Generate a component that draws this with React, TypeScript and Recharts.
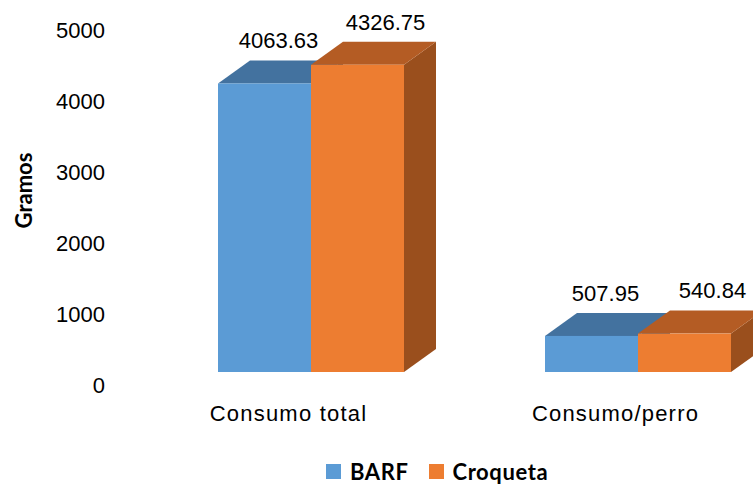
import React from "react";
import { BarChart, Bar, XAxis, YAxis, Legend, LabelList, Label } from "recharts";

const categories = ["Consumo total", "Consumo/perro"];
const barfValues = [4063.63, 507.95];
const croquetaValues = [4326.75, 540.84];
const yTicks = [0, 1000, 2000, 3000, 4000, 5000];

const data = categories.map((name, i) => ({
  name,
  BARF: barfValues[i],
  Croqueta: croquetaValues[i],
}));

const FONT = "'Liberation Sans', Arial, sans-serif";
const LEGEND_FONT = "Lato, 'Noto Sans', sans-serif";

// depth of the fake 3D extrusion
const DX = 32;
const DY = 23;

const palette: Record<string, { front: string; top: string; side: string }> = {
  BARF: { front: "#5B9BD5", top: "#43729F", side: "#3A6690" },
  Croqueta: { front: "#ED7D31", top: "#B45C24", side: "#9A4F1D" },
};

function Box3D(props: any) {
  const { x, y, width, height, dataKey } = props;
  const c = palette[dataKey] || palette.BARF;
  const top = `${x},${y} ${x + DX},${y - DY} ${x + width + DX},${y - DY} ${x + width},${y}`;
  const side = `${x + width},${y} ${x + width + DX},${y - DY} ${x + width + DX},${y + height - DY} ${x + width},${y + height}`;
  return (
    <g>
      <polygon points={side} fill={c.side} />
      <polygon points={top} fill={c.top} />
      <rect x={x} y={y} width={width} height={height} fill={c.front} />
    </g>
  );
}

const makeValueLabel = (shift: number) => (props: any) => {
  const { x, y, width, value } = props;
  return (
    <text
      x={x + width / 2 + shift}
      y={y - DY - 20}
      dy="0.355em"
      textAnchor="middle"
      fontFamily={FONT}
      fontSize={22}
      fill="#000"
    >
      {Number(value).toFixed(2)}
    </text>
  );
};

function YTick(props: any) {
  const { x, y, payload } = props;
  return (
    <text x={x} y={y + 13} dy="0.355em" textAnchor="end" fontFamily={FONT} fontSize={22} fill="#000">
      {payload.value}
    </text>
  );
}

function XTick(props: any) {
  const { x, y, payload } = props;
  return (
    <text
      x={x - 22}
      y={y + 41}
      dy="0.355em"
      textAnchor="middle"
      fontFamily={FONT}
      fontSize={22}
      letterSpacing={1.2}
      fill="#000"
    >
      {payload.value}
    </text>
  );
}

function AxisTitle(props: any) {
  const { viewBox } = props;
  const cx = viewBox.x - 23;
  const cy = viewBox.y + viewBox.height / 2 - 4;
  return (
    <text
      x={cx}
      y={cy}
      transform={`rotate(-90, ${cx}, ${cy})`}
      textAnchor="middle"
      dy="0.355em"
      fontFamily={LEGEND_FONT}
      fontWeight="bold"
      fontSize={22}
      fill="#000"
    >
      Gramos
    </text>
  );
}

function LegendBox(props: any) {
  const items = props.payload || [];
  return (
    <div style={{ height: 54, display: "flex", alignItems: "center", paddingTop: 24, paddingLeft: 279, boxSizing: "border-box" }}>
      {items.map((it: any) => (
        <div key={it.value} style={{ display: "flex", alignItems: "center", marginRight: 20 }}>
          <span style={{ width: 15, height: 15, background: palette[it.value].front, display: "inline-block", marginRight: 9 }} />
          <span style={{ fontFamily: LEGEND_FONT, fontWeight: "bold", fontSize: 22, letterSpacing: 0.6, color: "#000" }}>
            {it.value}
          </span>
        </div>
      ))}
    </div>
  );
}

export default function App() {
  return (
    <div style={{ position: "absolute", left: 0, top: 0, width: 753, height: 486, overflow: "hidden", background: "#fff" }}>
      <BarChart
        width={810}
        height={486}
        data={data}
        margin={{ top: 17, right: 9, left: 47, bottom: 0 }}
        barGap={0}
        barSize={93}
      >
        <XAxis dataKey="name" axisLine={false} tickLine={false} tickSize={0} tickMargin={0} height={60} tick={<XTick />} interval={0} />
        <YAxis
          type="number"
          domain={[0, 5000]}
          ticks={yTicks}
          width={100}
          axisLine={false}
          tickLine={false}
          tickSize={0}
          tickMargin={42}
          tick={<YTick />}
        >
          <Label content={<AxisTitle />} />
        </YAxis>
        <Legend verticalAlign="bottom" height={54} content={<LegendBox />} />
        <Bar dataKey="BARF" fill="#5B9BD5" shape={<Box3D dataKey="BARF" />} isAnimationActive={false}>
          <LabelList dataKey="BARF" content={makeValueLabel(14)} />
        </Bar>
        <Bar dataKey="Croqueta" fill="#ED7D31" shape={<Box3D dataKey="Croqueta" />} isAnimationActive={false}>
          <LabelList dataKey="Croqueta" content={makeValueLabel(28)} />
        </Bar>
      </BarChart>
    </div>
  );
}
